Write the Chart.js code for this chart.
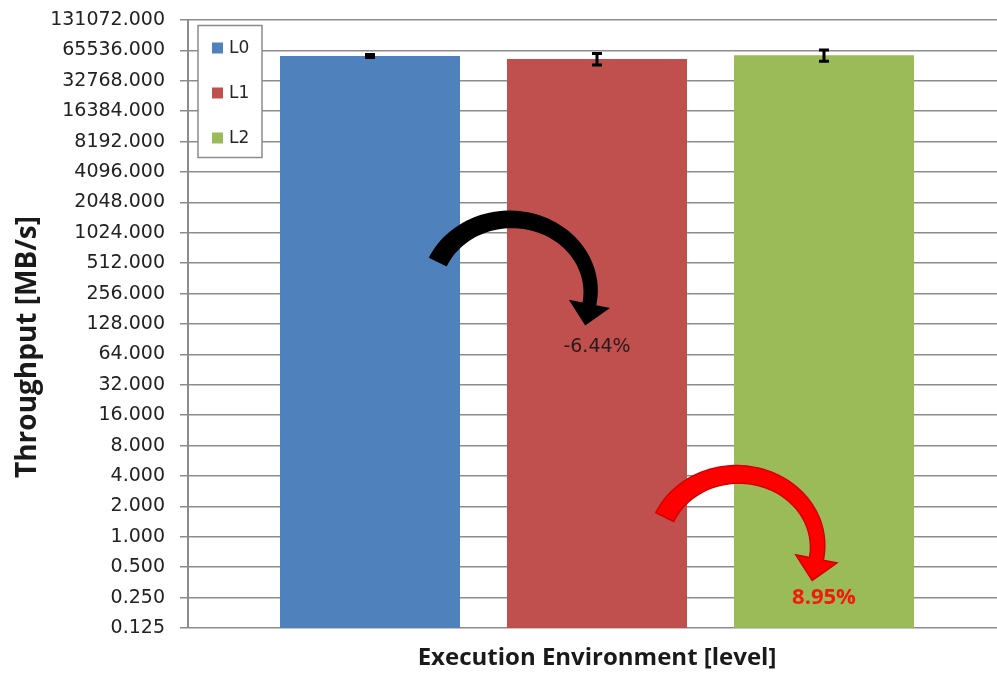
<!DOCTYPE html>
<html>
<head>
<meta charset="utf-8">
<script src="https://cdn.jsdelivr.net/npm/chart.js@4/dist/chart.umd.min.js"></script>
<style>
  html, body { margin: 0; padding: 0; background: #ffffff; overflow: hidden; }
  #wrap { width: 1006px; height: 673px; }
</style>
</head>
<body>
<div id="wrap"><canvas id="chart" width="1006" height="673"></canvas></div>
<script>
// Throughput per execution level (MB/s), with standard deviation
const categories = [''];
const levels = ['L0', 'L1', 'L2'];
const throughput = [57600, 53890, 58713];
const deviation = [2000, 7000, 7500];
const colors = ['#4F81BD', '#C0504D', '#9BBB59'];

// Power-of-two ticks on the throughput axis
const yTicks = [0.125, 0.25, 0.5, 1, 2, 4, 8, 16, 32, 64, 128, 256, 512, 1024,
  2048, 4096, 8192, 16384, 32768, 65536, 131072];

// Relative change between neighbouring levels
const changeLabels = ['-6.44%', '8.95%'];
const changeArcTop = [1390, 4.15];     // height of the arc's crest
const changeLabelAt = [75, 0.25];      // height of the percentage text

const errorBars = {
  id: 'errorBars',
  afterDatasetsDraw(chart) {
    const ctx = chart.ctx, y = chart.scales.y;
    ctx.save();
    ctx.strokeStyle = '#000';
    ctx.lineWidth = 3;
    levels.forEach((_, i) => {
      const el = chart.getDatasetMeta(i).data[0];
      const v = throughput[i], e = deviation[i];
      const top = y.getPixelForValue(v + e), bot = y.getPixelForValue(v - e);
      ctx.beginPath();
      ctx.moveTo(el.x, top); ctx.lineTo(el.x, bot);
      ctx.moveTo(el.x - 5, top); ctx.lineTo(el.x + 5, top);
      ctx.moveTo(el.x - 5, bot); ctx.lineTo(el.x + 5, bot);
      ctx.stroke();
    });
    ctx.restore();
  }
};

function curvedArrow(ctx, cx, cy, rx, ry, fill, stroke) {
  const a0 = 204 * Math.PI / 180, a1 = 370 * Math.PI / 180;
  const w0 = 20, w1 = 14, headHalf = 21, headLen = 22, N = 60;
  const outer = [], inner = [];
  const norm = a => {
    const nx = Math.cos(a) * ry, ny = Math.sin(a) * rx, l = Math.hypot(nx, ny);
    return [nx / l, ny / l];
  };
  for (let i = 0; i <= N; i++) {
    const t = i / N, a = a0 + (a1 - a0) * t, w = w0 + (w1 - w0) * t;
    const px = cx + rx * Math.cos(a), py = cy + ry * Math.sin(a);
    const [nx, ny] = norm(a);
    outer.push([px + nx * w / 2, py + ny * w / 2]);
    inner.push([px - nx * w / 2, py - ny * w / 2]);
  }
  const bx = cx + rx * Math.cos(a1), by = cy + ry * Math.sin(a1);
  const [nx, ny] = norm(a1);
  let tx = -rx * Math.sin(a1), ty = ry * Math.cos(a1);
  const tl = Math.hypot(tx, ty); tx /= tl; ty /= tl;
  ctx.beginPath();
  outer.forEach((p, i) => i ? ctx.lineTo(p[0], p[1]) : ctx.moveTo(p[0], p[1]));
  ctx.lineTo(bx + nx * headHalf, by + ny * headHalf);
  ctx.lineTo(bx + tx * headLen, by + ty * headLen);
  ctx.lineTo(bx - nx * headHalf, by - ny * headHalf);
  for (let i = inner.length - 1; i >= 0; i--) ctx.lineTo(inner[i][0], inner[i][1]);
  ctx.closePath();
  ctx.fillStyle = fill;
  ctx.fill();
  if (stroke) { ctx.strokeStyle = stroke; ctx.lineWidth = 1.5; ctx.stroke(); }
}

const changeArrows = {
  id: 'changeArrows',
  afterDatasetsDraw(chart) {
    const ctx = chart.ctx, y = chart.scales.y;
    ctx.save();
    changeLabels.forEach((label, i) => {
      const a = chart.getDatasetMeta(i).data[0];
      const b = chart.getDatasetMeta(i + 1).data[0];
      const span = b.x - a.x;
      const ry = 72, rx = span * 0.352;
      const cx = a.x + span * 0.62;
      const cy = y.getPixelForValue(changeArcTop[i]) + ry;
      const up = label.charAt(0) !== '-';
      curvedArrow(ctx, cx, cy, rx, ry, up ? '#ff0000' : '#000000', up ? '#d40000' : null);
      ctx.textAlign = 'center';
      ctx.textBaseline = 'middle';
      ctx.font = up ? 'bold 22px "Open Sans", sans-serif' : '19px "DejaVu Sans", sans-serif';
      ctx.fillStyle = up ? '#f21a0a' : '#2a1a1a';
      ctx.fillText(label, b.x, y.getPixelForValue(changeLabelAt[i]));
    });
    ctx.restore();
  }
};

const boxLegend = {
  id: 'boxLegend',
  afterDraw(chart) {
    const ctx = chart.ctx, area = chart.chartArea;
    const x = area.left + 10, top = area.top + 5.5;
    ctx.save();
    ctx.fillStyle = '#ffffff';
    ctx.strokeStyle = '#8c8c8c';
    ctx.lineWidth = 1.5;
    ctx.fillRect(x, top, 64, 132);
    ctx.strokeRect(x, top, 64, 132);
    ctx.font = '17px "DejaVu Sans", sans-serif';
    ctx.textBaseline = 'middle';
    ctx.textAlign = 'left';
    levels.forEach((name, i) => {
      const cy = top + 22 + i * 45;
      ctx.fillStyle = colors[i];
      ctx.fillRect(x + 14, cy - 5, 11, 11);
      ctx.fillStyle = '#262626';
      ctx.fillText(name, x + 31, cy + 1);
    });
    ctx.restore();
  }
};

const yAxisTitle = {
  id: 'yAxisTitle',
  afterDraw(chart) {
    const ctx = chart.ctx, area = chart.chartArea;
    ctx.save();
    ctx.translate(28, (area.top + area.bottom) / 2 + 23);
    ctx.rotate(-Math.PI / 2);
    ctx.font = 'bold 28px "Open Sans", sans-serif';
    ctx.fillStyle = '#1a1a1a';
    ctx.textAlign = 'center';
    ctx.textBaseline = 'middle';
    ctx.fillText('Throughput [MB/s]', 0, 0);
    ctx.restore();
  }
};

new Chart(document.getElementById('chart'), {
  type: 'bar',
  data: {
    labels: categories,
    datasets: levels.map((name, i) => ({
      label: name,
      data: [throughput[i]],
      backgroundColor: colors[i],
      borderWidth: 0,
      categoryPercentage: 0.8325,
      barPercentage: 0.793
    }))
  },
  options: {
    responsive: false,
    devicePixelRatio: 1,
    animation: false,
    layout: { padding: { top: 20, left: 0, right: 0, bottom: 0 } },
    plugins: { legend: { display: false }, tooltip: { enabled: false } },
    scales: {
      x: {
        grid: { display: false },
        border: { display: false },
        ticks: { display: false },
        title: {
          display: true,
          text: 'Execution Environment [level]',
          font: { family: '"Open Sans", sans-serif', size: 24, weight: 'bold' },
          color: '#1a1a1a',
          padding: { top: 0, bottom: 0 }
        },
        afterFit(scale) { scale.height = 45; }
      },
      y: {
        type: 'logarithmic',
        min: 0.125,
        max: 131072,
        afterBuildTicks(scale) { scale.ticks = yTicks.map(v => ({ value: v })); },
        ticks: {
          autoSkip: false,
          padding: 15,
          color: '#222222',
          font: { family: '"DejaVu Sans", sans-serif', size: 19 },
          callback: v => Number(v).toFixed(3)
        },
        grid: { color: '#8c8c8c', lineWidth: 1.5, tickLength: 8 },
        border: { color: '#8c8c8c', width: 2 },
        afterFit(scale) {
          scale.width = 188;
          scale.paddingTop = 0;
          scale.paddingBottom = 0;
        }
      }
    }
  },
  plugins: [errorBars, changeArrows, boxLegend, yAxisTitle]
});
</script>
</body>
</html>
